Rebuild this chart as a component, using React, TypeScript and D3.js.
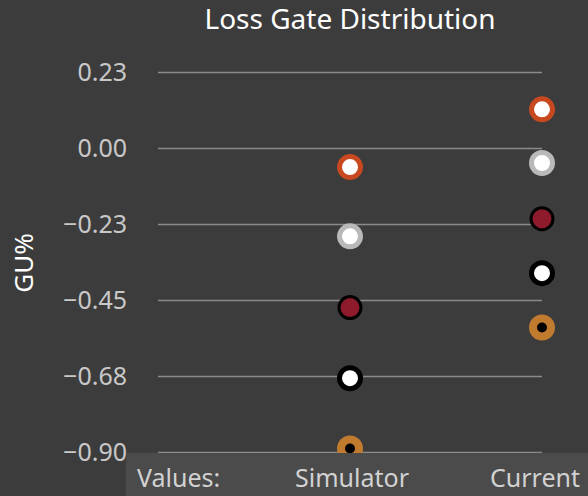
import { useEffect } from "react";
import * as d3 from "d3";

const categories = ["Simulator", "Current"];
const seriesNames = ["Max", "Upper", "Median", "Lower", "Min"];
const simulatorValues = [-0.055, -0.26, -0.471, -0.68, -0.888];
const currentValues = [0.116, -0.043, -0.208, -0.369, -0.53];
const tickValues = [0.225, 0, -0.225, -0.45, -0.675, -0.9];

const width = 588;
const height = 496;

// marker look per series (same order as seriesNames)
const markerStyles = [
  { fill: "#ffffff", stroke: "#c8491f", sw: 5, r: 10.5 },
  { fill: "#ffffff", stroke: "#b9b9b9", sw: 5, r: 10.5 },
  { fill: "#8e1b2b", stroke: "#000000", sw: 3, r: 11 },
  { fill: "#ffffff", stroke: "#000000", sw: 5, r: 10.5 },
  { fill: "#000000", stroke: "#c17b2f", sw: 8, r: 9 },
];

const App = () => {
  useEffect(() => {
    document.body.style.margin = "0";
  }, []);

  const x = d3.scalePoint<string>().domain(categories).range([158, 542]).padding(0.5).align(1);
  const y = d3.scaleLinear().domain([-0.9, 0.225]).range([452.5, 72.5]);
  const fmt = d3.format(".2f");

  const rows = [simulatorValues, currentValues];
  const points = categories.flatMap((c, ci) =>
    seriesNames.map((s, si) => ({ cat: c, series: s, value: rows[ci][si], style: markerStyles[si] }))
  );

  const font = "'Noto Sans', 'Open Sans', sans-serif";

  return (
    <svg width={width} height={height} style={{ display: "block", background: "#3c3c3c" }}>
      <rect width={width} height={height} fill="#3c3c3c" />
      <text x={350} y={29} textAnchor="middle" fill="#ffffff" fontSize={28} fontFamily={font}>
        Loss Gate Distribution
      </text>
      <text
        transform={`translate(33,263) rotate(-90)`}
        textAnchor="middle"
        fill="#ffffff"
        fontSize={26}
        fontFamily={font}
      >
        GU%
      </text>
      <g>
        {tickValues.map((t) => (
          <g key={t}>
            <line x1={158} x2={542} y1={y(t)} y2={y(t)} stroke="#8a8a8a" strokeWidth={1.5} />
            <text
              x={127}
              y={y(t)}
              dy="0.32em"
              textAnchor="end"
              fill="#c8c8c8"
              fontSize={25}
              fontFamily={font}
            >
              {fmt(t)}
            </text>
          </g>
        ))}
      </g>
      <g>
        {points.map((p) => (
          <circle
            key={p.cat + p.series}
            cx={x(p.cat)}
            cy={y(p.value)}
            r={p.style.r}
            fill={p.style.fill}
            stroke={p.style.stroke}
            strokeWidth={p.style.sw}
          />
        ))}
      </g>
      <rect x={126} y={453} width={width - 126} height={height - 453} fill="#4b4b4b" />
      <g fontFamily={font} fontSize={25} fill="#d2d2d2">
        <text x={137} y={487}>Values:</text>
        <text x={(x("Simulator") ?? 0) + 2} y={487} textAnchor="middle">
          Simulator
        </text>
        <text x={width - 8} y={487} textAnchor="end">
          Current
        </text>
      </g>
    </svg>
  );
};

export default App;
